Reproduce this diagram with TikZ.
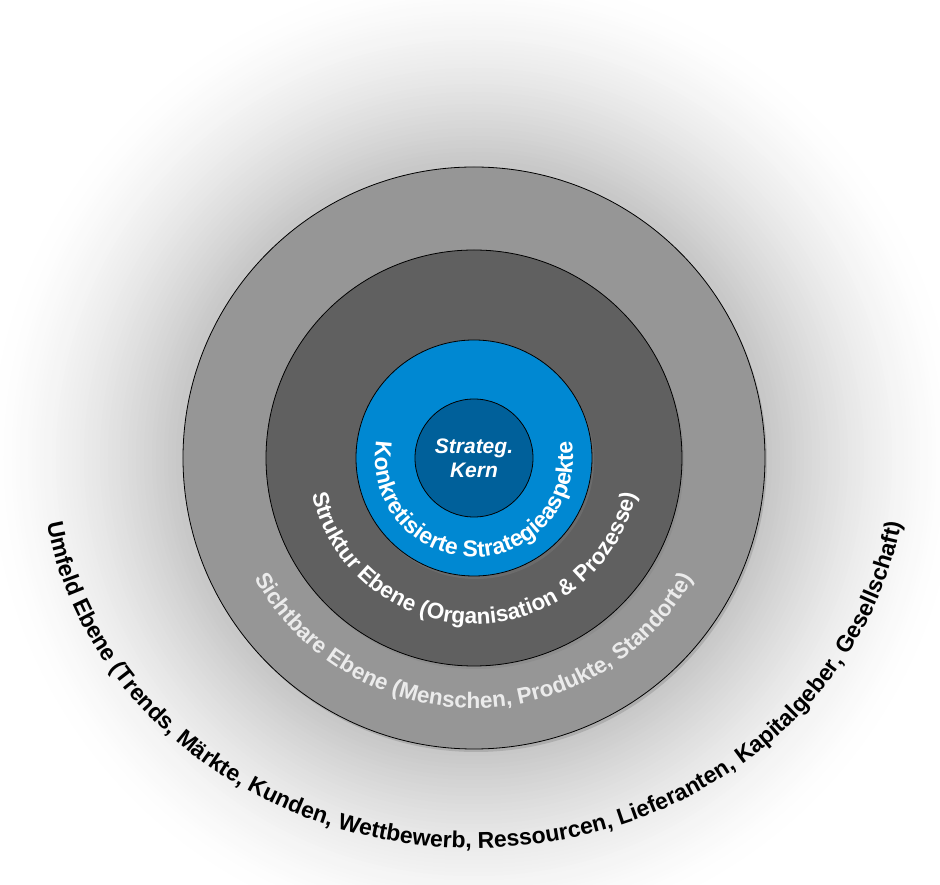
\documentclass[tikz,border=0pt]{standalone}
\usepackage{fontspec}
\setmainfont{Liberation Sans}
\usetikzlibrary{decorations.text,shadows}
\definecolor{cOut}{HTML}{969696}
\definecolor{cMid}{HTML}{606060}
\definecolor{cBlue}{HTML}{0088D2}
\definecolor{cCore}{HTML}{00609A}
\definecolor{cHalo}{HTML}{C8C8C8}
\tikzset{
 ring/.style={draw=black, line width=0.8pt, drop shadow={shadow xshift=2pt,shadow yshift=-3pt,opacity=.35}},
 arctext/.style={decorate, decoration={text along path, text align=center, text={#1}}}
}
\begin{document}
\begin{tikzpicture}[x=1pt,y=1pt]
\useasboundingbox (-474,-427) rectangle (466,458);
\fill[white] (-474,-427) rectangle (466,458);
\foreach \i in {0,...,48}{
  \pgfmathsetmacro\rr{490-4*\i}
  \pgfmathsetmacro\pp{100*(\i/48)^1.5}
  \fill[cHalo!\pp!white] (0,0) circle (\rr);
}
\node[ring, circle, fill=cOut, minimum size=582, inner sep=0] (outer) at (0,0) {};
\node[ring, circle, fill=cMid, minimum size=416, inner sep=0] (mid) at (0,0) {};
\node[ring, circle, fill=cBlue, minimum size=236, inner sep=0] (blue) at (0,0) {};
\node[circle, draw=black, line width=0.8pt, fill=cCore, minimum size=118, inner sep=0, text=white, font=\bfseries\itshape\fontsize{21}{24}\selectfont, align=center] (core) at (0,0) {Strateg.\\Kern};
\path[arctext={|\color{white}\bfseries\fontsize{23}{26}\selectfont|Konkretisierte Strategieaspekte}] (0,0) ++(146:99) arc[start angle=146,end angle=394,radius=99];
\path[arctext={|\color{white}\bfseries\fontsize{22.5}{26}\selectfont|Struktur Ebene (Organisation {\&} Prozesse)}] (0,0) ++(178:166) arc[start angle=178,end angle=362,radius=166];
\path[arctext={|\color{white!92!black}\bfseries\fontsize{22.5}{26}\selectfont|Sichtbare Ebene (Menschen, Produkte, Standorte)}] (0,0) ++(192:250) arc[start angle=192,end angle=348,radius=250];
\path[arctext={|\color{black}\bfseries\fontsize{23}{26}\selectfont|Umfeld Ebene (Trends, Märkte, Kunden, Wettbewerb, Ressourcen, Lieferanten, Kapitalgeber, Gesellschaft)}] (-433,0) arc[start angle=180,end angle=360,x radius=433,y radius=390];
\end{tikzpicture}
\end{document}
